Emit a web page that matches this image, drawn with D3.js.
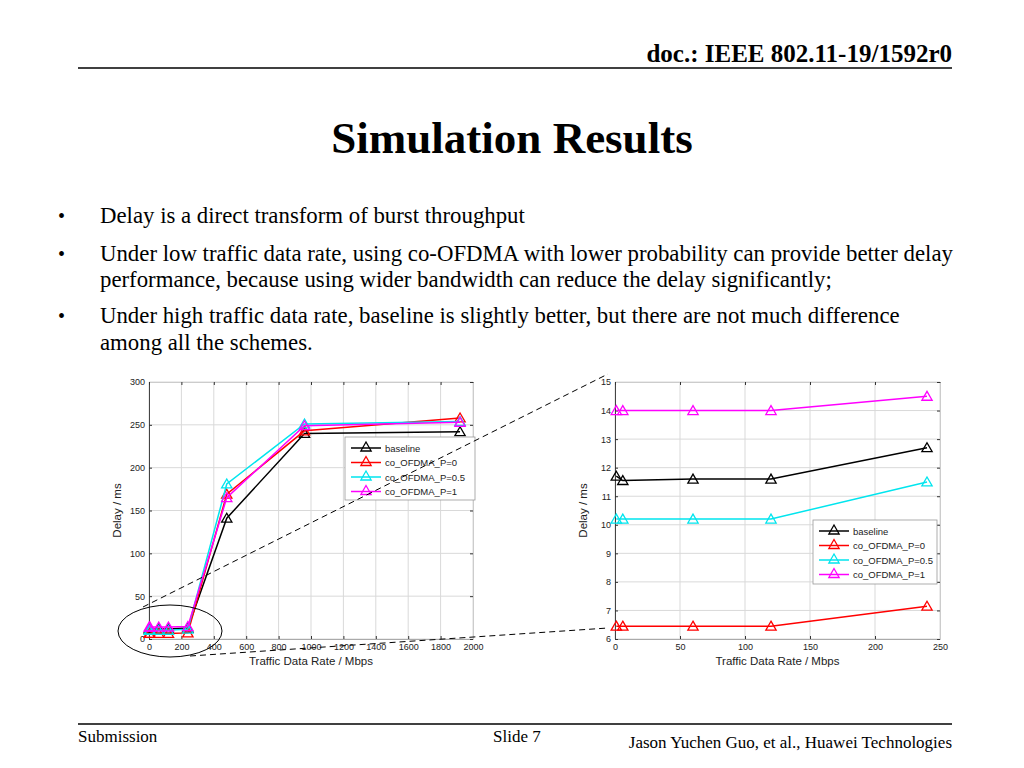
<!DOCTYPE html>
<html><head><meta charset="utf-8">
<script src="https://cdn.jsdelivr.net/npm/d3@7"></script>
<style>
body{margin:0;background:#fff;}
svg{display:block;}
.serif{font-family:"Liberation Serif","Times New Roman",serif;}
.sans{font-family:"Liberation Sans",Arial,sans-serif;}
</style></head>
<body>
<svg id="c" width="1024" height="768"></svg>
<script>
const rates = [1, 6, 60, 120, 240, 480, 960, 1920];
const seriesNames = ["baseline", "co_OFDMA_P=0", "co_OFDMA_P=0.5", "co_OFDMA_P=1"];
const baseline = [11.7, 11.55, 11.6, 11.6, 12.7, 141, 240, 242];
const ofdmaP0 = [6.45, 6.45, 6.45, 6.45, 7.15, 169, 243, 258];
const ofdmaP05 = [10.2, 10.2, 10.2, 10.2, 11.5, 181, 251, 254];
const ofdmaP1 = [14, 14, 14, 14, 14.5, 165, 249, 253];
const leftXTicks = [0, 200, 400, 600, 800, 1000, 1200, 1400, 1600, 1800, 2000];
const leftYTicks = [0, 50, 100, 150, 200, 250, 300];
const rightXTicks = [0, 50, 100, 150, 200, 250];
const rightYTicks = [6, 7, 8, 9, 10, 11, 12, 13, 14, 15];
const bullets = [
  ["Delay is a direct transform of burst throughput"],
  ["Under low traffic data rate, using co-OFDMA with lower probability can provide better delay",
   "performance, because using wider bandwidth can reduce the delay significantly;"],
  ["Under high traffic data rate, baseline is slightly better, but there are not much difference",
   "among all the schemes."]
];

const colors = ["#000000", "#ff0000", "#00e5ee", "#ff00ff"];
const allSeries = [baseline, ofdmaP0, ofdmaP05, ofdmaP1];
const svg = d3.select("#c");

// Header
svg.append("text").attr("class","serif").attr("x",952).attr("y",62).attr("text-anchor","end")
  .attr("font-size",25).attr("font-weight","bold").text("doc.: IEEE 802.11-19/1592r0");
svg.append("line").attr("x1",78).attr("x2",952).attr("y1",68).attr("y2",68).attr("stroke","#000").attr("stroke-width",1.5);
svg.append("text").attr("class","serif").attr("x",512).attr("y",153).attr("text-anchor","middle")
  .attr("font-size",45).attr("font-weight","bold").text("Simulation Results");

// Bullets
const lineYs = [[223],[261,287],[323,350]];
bullets.forEach((b,i)=>{
  svg.append("text").attr("class","serif").attr("x",58).attr("y",lineYs[i][0]).attr("font-size",20).text("•");
  b.forEach((t,j)=>{
    svg.append("text").attr("class","serif").attr("x",100).attr("y",lineYs[i][j]).attr("font-size",22.8).text(t);
  });
});

// Footer
svg.append("line").attr("x1",78).attr("x2",952).attr("y1",724).attr("y2",724).attr("stroke","#000").attr("stroke-width",1.5);
svg.append("text").attr("class","serif").attr("x",78).attr("y",742).attr("font-size",17).text("Submission");
svg.append("text").attr("class","serif").attr("x",493).attr("y",742).attr("font-size",17).text("Slide 7");
svg.append("text").attr("class","serif").attr("x",952).attr("y",748).attr("text-anchor","end").attr("font-size",17).text("Jason Yuchen Guo, et al., Huawei Technologies");

const tri = d3.symbol().type(d3.symbolTriangle).size(46);
const fmt = d3.format("d");

function drawPlot(o){
  const x = d3.scaleLinear().domain(o.xd).range([o.x0,o.x1]);
  const y = d3.scaleLinear().domain(o.yd).range([o.y1,o.y0]);
  const g = svg.append("g").attr("class","sans");
  // grid
  g.selectAll(".gx").data(o.xt).enter().append("line")
    .attr("x1",d=>x(d)).attr("x2",d=>x(d)).attr("y1",o.y0).attr("y2",o.y1).attr("stroke","#d9d9d9").attr("stroke-width",1);
  g.selectAll(".gy").data(o.yt).enter().append("line")
    .attr("y1",d=>y(d)).attr("y2",d=>y(d)).attr("x1",o.x0).attr("x2",o.x1).attr("stroke","#d9d9d9").attr("stroke-width",1);
  // axes
  const ax = g.append("g").attr("transform",`translate(0,${o.y1})`)
    .call(d3.axisBottom(x).tickValues(o.xt).tickFormat(fmt).tickSizeInner(-3).tickSizeOuter(0).tickPadding(5));
  const ay = g.append("g").attr("transform",`translate(${o.x0},0)`)
    .call(d3.axisLeft(y).tickValues(o.yt).tickFormat(fmt).tickSizeInner(-3).tickSizeOuter(0).tickPadding(4));
  const axT = g.append("g").attr("transform",`translate(0,${o.y0})`)
    .call(d3.axisTop(x).tickValues(o.xt).tickSizeInner(-3).tickSizeOuter(0).tickFormat(""));
  const ayR = g.append("g").attr("transform",`translate(${o.x1},0)`)
    .call(d3.axisRight(y).tickValues(o.yt).tickSizeInner(-3).tickSizeOuter(0).tickFormat(""));
  [ax,ay,axT,ayR].forEach(a=>{
    a.selectAll("text").attr("font-size",9).attr("fill","#222").attr("font-family","Liberation Sans, Arial, sans-serif");
    a.selectAll(".tick line").attr("stroke","#333");
  });
  ax.select(".domain").attr("stroke","#aaa");
  axT.select(".domain").attr("stroke","#ccc");
  ayR.select(".domain").attr("stroke","#ccc");
  ay.select(".domain").attr("stroke","#444");
  // labels
  g.append("text").attr("x",(o.x0+o.x1)/2).attr("y",o.y1+26).attr("text-anchor","middle").attr("font-size",11.5).attr("fill","#222").text("Traffic Data Rate / Mbps");
  g.append("text").attr("transform",`translate(${o.x0-28},${(o.y0+o.y1)/2}) rotate(-90)`).attr("text-anchor","middle").attr("font-size",11.5).attr("fill","#222").text("Delay / ms");
  // series
  const line = d3.line().x(d=>x(d[0])).y(d=>y(d[1]));
  allSeries.forEach((s,i)=>{
    const pts = rates.map((r,k)=>[r,s[k]]).filter(d=>d[0]<=o.xd[1]);
    g.append("path").attr("d",line(pts)).attr("fill","none").attr("stroke",colors[i]).attr("stroke-width",1.5);
    g.selectAll(null).data(pts).enter().append("path").attr("d",tri)
      .attr("transform",d=>`translate(${x(d[0])},${y(d[1])+1})`)
      .attr("fill","none").attr("stroke",colors[i]).attr("stroke-width",1.3);
  });
  // legend
  const L = o.leg;
  g.append("rect").attr("x",L.x).attr("y",L.y).attr("width",L.w).attr("height",L.h).attr("fill","#fff").attr("stroke","#999").attr("stroke-width",0.8);
  seriesNames.forEach((n,i)=>{
    const yy = L.y+11+i*14.5;
    g.append("line").attr("x1",L.x+6).attr("x2",L.x+36).attr("y1",yy).attr("y2",yy).attr("stroke",colors[i]).attr("stroke-width",1.5);
    g.append("path").attr("d",tri).attr("transform",`translate(${L.x+21},${yy})`).attr("fill","none").attr("stroke",colors[i]).attr("stroke-width",1.3);
    g.append("text").attr("x",L.x+40).attr("y",yy+3.5).attr("font-size",9.5).attr("fill","#222").text(n);
  });
  return {x,y};
}

drawPlot({xd:[0,2000],yd:[0,300],x0:149,x1:473,y0:382,y1:639,xt:leftXTicks,yt:leftYTicks,
  leg:{x:345,y:437,w:130,h:63}});
drawPlot({xd:[0,250],yd:[6,15],x0:615,x1:940,y0:382,y1:639,xt:rightXTicks,yt:rightYTicks,
  leg:{x:813,y:520,w:124,h:64}});

// zoom annotations
const ann = svg.append("g").attr("fill","none").attr("stroke","#000").attr("stroke-width",1);
ann.append("ellipse").attr("cx",170).attr("cy",631).attr("rx",52).attr("ry",26);
ann.append("line").attr("x1",143).attr("y1",607).attr("x2",608).attr("y2",374).attr("stroke-dasharray","6,4");
ann.append("line").attr("x1",190).attr("y1",656).attr("x2",608).attr("y2",628).attr("stroke-dasharray","6,4");
</script>
</body></html>
